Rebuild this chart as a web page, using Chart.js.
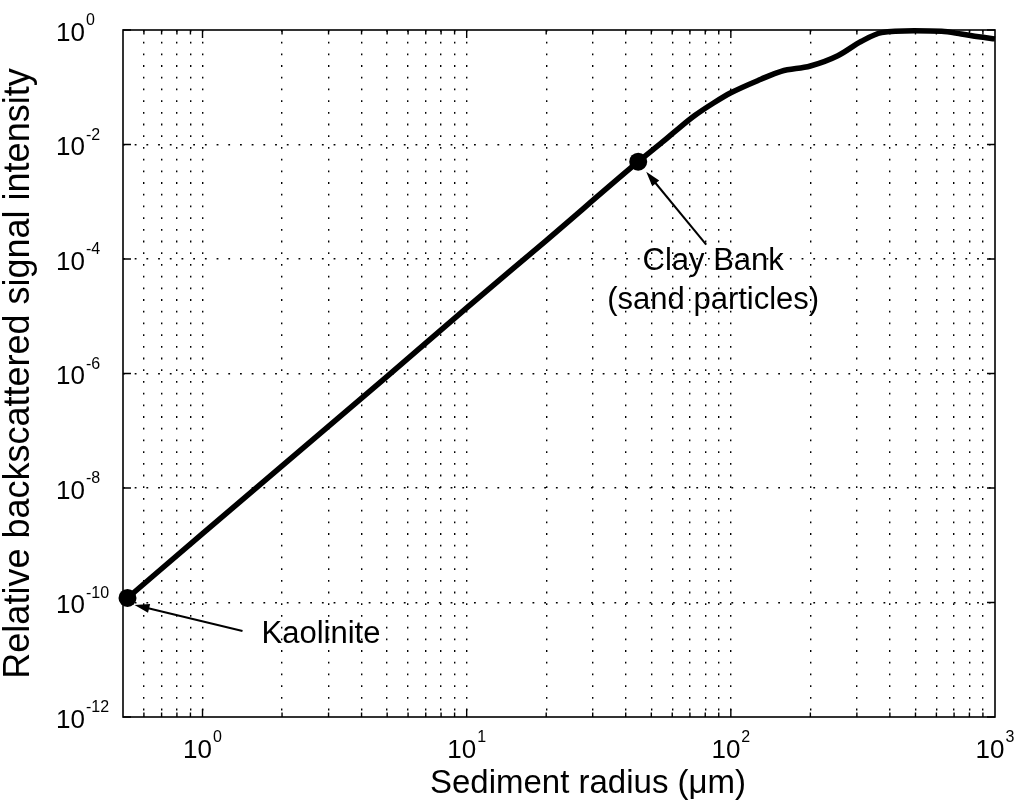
<!DOCTYPE html>
<html>
<head>
<meta charset="utf-8">
<script src="https://cdn.jsdelivr.net/npm/chart.js@4"></script>
<style>
  html, body { margin: 0; padding: 0; background: #fff; }
  canvas { display: block; }
</style>
</head>
<body>
<canvas id="chart" width="1017" height="806"></canvas>
<script>
// Relative backscattered intensity against sediment radius
const radius = [0.52, 1, 5, 10, 20, 44.6, 55, 62, 73, 86, 100, 130, 155, 200, 254, 311, 372, 494, 628, 745, 867, 1000];
const intensity = [1.2e-10, 1.6e-9, 8.9e-7, 1.4e-5, 2.1e-4, 5e-3, 1.1e-2, 1.75e-2, 3.2e-2, 5.3e-2, 8e-2, 0.138, 0.19, 0.235, 0.355, 0.63, 0.9, 0.97, 0.95, 0.85, 0.76, 0.70];

// Highlighted sediments
const markerNames = ['Kaolinite', 'Clay Bank'];
const markerRadius = [0.52, 44.6];
const markerIntensity = [1.2e-10, 5e-3];
const markerText = [['Kaolinite'], ['Clay Bank', '(sand particles)']];

// Axis ticks (exponents of ten)
const xTickExponents = [0, 1, 2, 3];
const yTickExponents = [-12, -10, -8, -6, -4, -2, 0];
const xGridValues = [0.6, 0.7, 0.8, 0.9, 1, 2, 3, 4, 5, 6, 7, 8, 9, 10, 20, 30, 40, 50, 60, 70, 80, 90,
                     100, 200, 300, 400, 500, 600, 700, 800, 900];
const yGridValues = [1e-10, 1e-8, 1e-6, 1e-4, 1e-2];

const xTitle = 'Sediment radius (μm)';
const yTitle = 'Relative backscattered signal intensity';

const FONT = "'Liberation Sans', Arial, Helvetica, sans-serif";

// Annotation layout: arrow tip / tail and text anchor, as offsets from the marker
const annotationLayout = [
  { tip: [7, 7], tail: [115, 33], text: [134, 36], align: 'left', lineGap: 39 },
  { tip: [8, 10], tail: [68, 83], text: [75, 100], align: 'center', lineGap: 39 }
];

function drawArrow(ctx, x1, y1, x2, y2) {
  const ang = Math.atan2(y2 - y1, x2 - x1);
  const headLen = 15, headHalf = 4.5;
  ctx.save();
  ctx.strokeStyle = '#000';
  ctx.fillStyle = '#000';
  ctx.lineWidth = 2;
  ctx.beginPath();
  ctx.moveTo(x1, y1);
  ctx.lineTo(x2 - Math.cos(ang) * headLen * 0.8, y2 - Math.sin(ang) * headLen * 0.8);
  ctx.stroke();
  ctx.beginPath();
  ctx.moveTo(x2, y2);
  ctx.lineTo(x2 - Math.cos(ang) * headLen - Math.sin(ang) * headHalf,
             y2 - Math.sin(ang) * headLen + Math.cos(ang) * headHalf);
  ctx.lineTo(x2 - Math.cos(ang) * headLen + Math.sin(ang) * headHalf,
             y2 - Math.sin(ang) * headLen - Math.cos(ang) * headHalf);
  ctx.closePath();
  ctx.fill();
  ctx.restore();
}

const framePlugin = {
  id: 'frameAndLabels',
  afterDraw(chart) {
    const ctx = chart.ctx;
    const xs = chart.scales.x, ys = chart.scales.y;
    const a = chart.chartArea;
    ctx.save();
    // frame
    ctx.strokeStyle = '#000';
    ctx.lineWidth = 1.6;
    ctx.strokeRect(a.left, a.top, a.right - a.left, a.bottom - a.top);

    // tick marks (inward)
    ctx.lineWidth = 1.4;
    ctx.beginPath();
    yTickExponents.forEach(e => {
      const py = ys.getPixelForValue(Math.pow(10, e));
      ctx.moveTo(a.left, py); ctx.lineTo(a.left + 8, py);
      ctx.moveTo(a.right, py); ctx.lineTo(a.right - 8, py);
    });
    xGridValues.forEach(v => {
      const px = xs.getPixelForValue(v);
      const major = Math.abs(Math.log10(v) - Math.round(Math.log10(v))) < 1e-9;
      const len = major ? 8 : 4.5;
      ctx.moveTo(px, a.bottom); ctx.lineTo(px, a.bottom - len);
      ctx.moveTo(px, a.top); ctx.lineTo(px, a.top + len);
    });
    ctx.stroke();

    // tick labels with superscript exponents
    ctx.fillStyle = '#000';
    ctx.textBaseline = 'alphabetic';
    const baseFont = '26px ' + FONT;
    const supFont = '16px ' + FONT;
    yTickExponents.forEach(e => {
      const py = ys.getPixelForValue(Math.pow(10, e));
      ctx.font = baseFont;
      ctx.textAlign = 'left';
      const x0 = 56;
      ctx.fillText('10', x0, py + 10.5);
      const w = ctx.measureText('10').width;
      ctx.font = supFont;
      ctx.fillText(String(e), x0 + w + 1, py - 5);
    });
    xTickExponents.forEach(e => {
      const px = xs.getPixelForValue(Math.pow(10, e));
      ctx.font = baseFont;
      const w1 = ctx.measureText('10').width;
      ctx.font = supFont;
      const w2 = ctx.measureText(String(e)).width;
      const start = px - (w1 + 1 + w2) / 2;
      ctx.textAlign = 'left';
      ctx.font = baseFont;
      ctx.fillText('10', start, 758);
      ctx.font = supFont;
      ctx.fillText(String(e), start + w1 + 1, 742);
    });

    // x axis title
    ctx.font = '33px ' + FONT;
    ctx.textAlign = 'center';
    ctx.textBaseline = 'alphabetic';
    ctx.fillText(xTitle, 588, 793);

    // annotations
    markerRadius.forEach((r, i) => {
      const mx = xs.getPixelForValue(r);
      const my = ys.getPixelForValue(markerIntensity[i]);
      const L = annotationLayout[i];
      drawArrow(ctx, mx + L.tail[0], my + L.tail[1], mx + L.tip[0], my + L.tip[1]);
      ctx.font = '31px ' + FONT;
      ctx.textAlign = L.align;
      ctx.textBaseline = 'middle';
      markerText[i].forEach((line, k) => {
        ctx.fillText(line, mx + L.text[0], my + L.text[1] + k * L.lineGap);
      });
    });
    ctx.restore();
  }
};

const ctx = document.getElementById('chart').getContext('2d');
new Chart(ctx, {
  type: 'line',
  data: {
    datasets: [
      {
        label: 'Backscattered intensity',
        data: radius.map((r, i) => ({ x: r, y: intensity[i] })),
        borderColor: '#000',
        borderWidth: 5.5,
        pointRadius: 0,
        cubicInterpolationMode: 'monotone',
        fill: false,
        clip: 4
      },
      {
        label: 'Sediments',
        data: markerRadius.map((r, i) => ({ x: r, y: markerIntensity[i], name: markerNames[i] })),
        showLine: false,
        pointRadius: 9,
        pointBackgroundColor: '#000',
        pointBorderWidth: 0,
        clip: false
      }
    ]
  },
  options: {
    responsive: false,
    animation: false,
    layout: { padding: { top: 30, right: 22, left: 0, bottom: 0 } },
    plugins: { legend: { display: false }, tooltip: { enabled: false } },
    scales: {
      x: {
        type: 'logarithmic',
        min: 0.5,
        max: 1000,
        bounds: 'data',
        afterBuildTicks: s => { s.ticks = xGridValues.map(v => ({ value: v })); },
        afterFit: s => { s.height = 89; },
        ticks: { display: false },
        grid: { color: '#000', lineWidth: 1.4, drawTicks: false },
        border: { display: false, dash: [1.8, 9.9] },
        title: { display: false }
      },
      y: {
        type: 'logarithmic',
        min: 1e-12,
        max: 1,
        bounds: 'data',
        afterBuildTicks: s => { s.ticks = yGridValues.map(v => ({ value: v })); },
        afterFit: s => { s.width = 123; },
        ticks: { display: false },
        grid: { color: '#000', lineWidth: 1.4, drawTicks: false },
        border: { display: false, dash: [1.8, 9.9] },
        title: {
          display: true,
          text: yTitle,
          color: '#000',
          font: { family: FONT, size: 36, lineHeight: 1 },
          padding: { top: 1, bottom: 0 }
        }
      }
    }
  },
  plugins: [framePlugin]
});
</script>
</body>
</html>
